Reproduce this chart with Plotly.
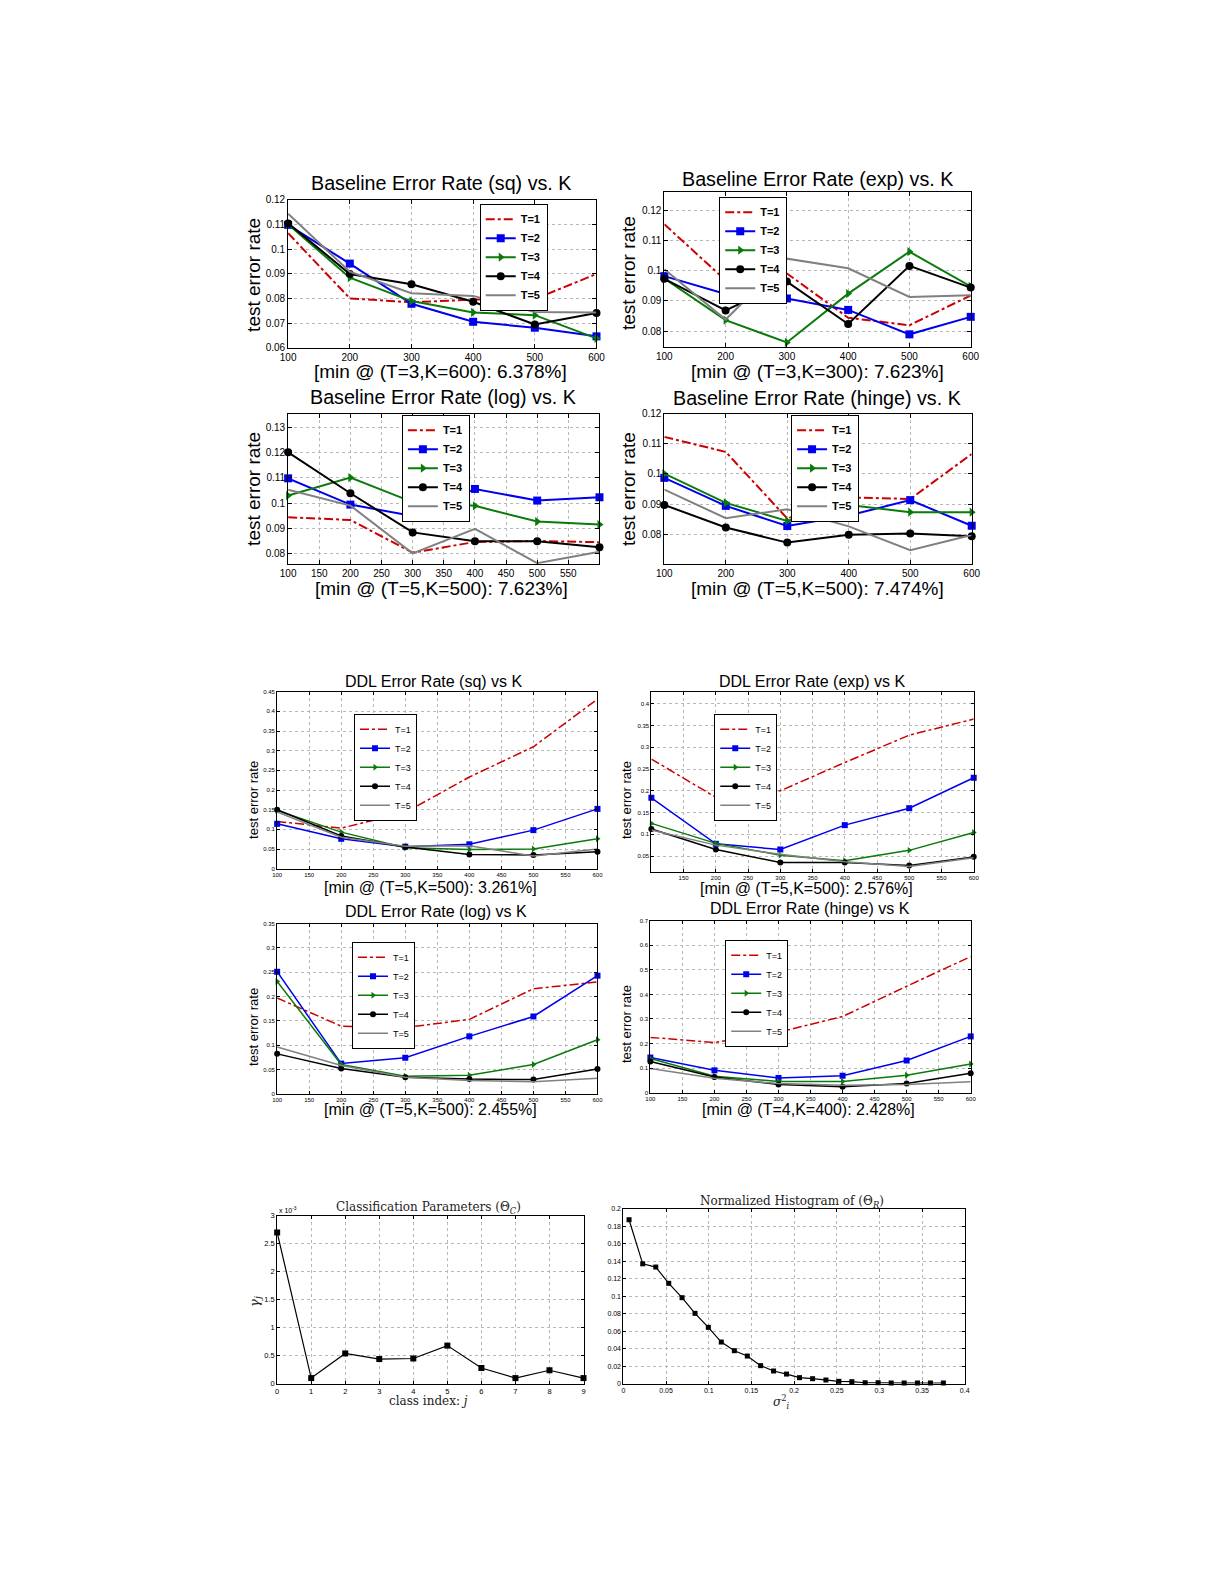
import plotly.graph_objects as go

W, H = 1225, 1585
OFF = 8
FW, FH = W - 2 * OFF, H - 2 * OFF
# measured placement of the rendered figure inside the photographed page
AX, SX = 14.3, 0.988
AY, SY = 12.3, 0.993

# ---------------- data ----------------
K = [100, 200, 300, 400, 500, 600]
T_NAMES = ["T=1", "T=2", "T=3", "T=4", "T=5"]

# Baseline (sq)
bsq_T1 = [0.1064, 0.0800, 0.0784, 0.0795, 0.0797, 0.0899]
bsq_T2 = [0.1098, 0.0941, 0.0778, 0.0705, 0.0681, 0.0646]
bsq_T3 = [0.1100, 0.0884, 0.0789, 0.0743, 0.0732, 0.0638]
bsq_T4 = [0.1104, 0.0899, 0.0857, 0.0786, 0.0694, 0.0741]
bsq_T5 = [0.1143, 0.0908, 0.0821, 0.0810, 0.0745, 0.0743]
# Baseline (exp)
bexp_T1 = [0.1154, 0.0968, 0.0991, 0.0844, 0.0819, 0.0918]
bexp_T2 = [0.0982, 0.0923, 0.0908, 0.0870, 0.0789, 0.0847]
bexp_T3 = [0.0974, 0.0836, 0.0762, 0.0924, 0.1063, 0.0948]
bexp_T4 = [0.0973, 0.0868, 0.0964, 0.0823, 0.1016, 0.0944]
bexp_T5 = [0.1005, 0.0838, 0.1040, 0.1008, 0.0913, 0.0919]
# Baseline (log)
blog_T1 = [0.0944, 0.0933, 0.0804, 0.0846, 0.0850, 0.0845]
blog_T2 = [0.1098, 0.0994, 0.0949, 0.1056, 0.1010, 0.1023]
blog_T3 = [0.1030, 0.1101, 0.1004, 0.0989, 0.0927, 0.0915]
blog_T4 = [0.1201, 0.1039, 0.0884, 0.0849, 0.0849, 0.0825]
blog_T5 = [0.1053, 0.0990, 0.0801, 0.0898, 0.0762, 0.0807]
# Baseline (hinge)
bhin_T1 = [0.1123, 0.1073, 0.0852, 0.0922, 0.0917, 0.1066]
bhin_T2 = [0.0987, 0.0894, 0.0827, 0.0862, 0.0913, 0.0828]
bhin_T3 = [0.1001, 0.0904, 0.0844, 0.0897, 0.0873, 0.0873]
bhin_T4 = [0.0897, 0.0822, 0.0772, 0.0798, 0.0802, 0.0793]
bhin_T5 = [0.0948, 0.0853, 0.0883, 0.0826, 0.0747, 0.0797]
# DDL (sq)
dsq_T1 = [0.120, 0.103, 0.143, 0.233, 0.310, 0.431]
dsq_T2 = [0.114, 0.076, 0.056, 0.062, 0.098, 0.152]
dsq_T3 = [0.148, 0.093, 0.053, 0.049, 0.050, 0.076]
dsq_T4 = [0.150, 0.083, 0.055, 0.036, 0.035, 0.043]
dsq_T5 = [0.144, 0.080, 0.057, 0.058, 0.0326, 0.050]
# DDL (exp)
dexp_T1 = [0.273, 0.185, 0.200, 0.265, 0.328, 0.365]
dexp_T2 = [0.184, 0.078, 0.065, 0.121, 0.160, 0.230]
dexp_T3 = [0.125, 0.079, 0.052, 0.039, 0.063, 0.104]
dexp_T4 = [0.112, 0.065, 0.035, 0.035, 0.028, 0.048]
dexp_T5 = [0.110, 0.075, 0.054, 0.037, 0.0258, 0.046]
# DDL (log)
dlog_T1 = [0.197, 0.139, 0.136, 0.153, 0.216, 0.230]
dlog_T2 = [0.251, 0.062, 0.074, 0.118, 0.159, 0.243]
dlog_T3 = [0.231, 0.060, 0.036, 0.038, 0.060, 0.111]
dlog_T4 = [0.082, 0.052, 0.034, 0.030, 0.029, 0.051]
dlog_T5 = [0.096, 0.058, 0.034, 0.027, 0.0246, 0.032]
# DDL (hinge)
dhin_T1 = [0.225, 0.204, 0.246, 0.310, 0.433, 0.554]
dhin_T2 = [0.143, 0.091, 0.060, 0.069, 0.131, 0.229]
dhin_T3 = [0.139, 0.067, 0.046, 0.046, 0.071, 0.117]
dhin_T4 = [0.127, 0.064, 0.033, 0.0243, 0.037, 0.079]
dhin_T5 = [0.098, 0.059, 0.037, 0.030, 0.033, 0.045]

# Classification parameters
class_idx = [0, 1, 2, 3, 4, 5, 6, 7, 8, 9]
gamma_j = [0.00270, 0.00010, 0.00054, 0.00044, 0.00045, 0.00068, 0.00028, 0.00010, 0.00024, 0.00010]

# Normalized histogram
sigma2 = [0.0066, 0.0226, 0.0379, 0.0531, 0.0687, 0.0839, 0.0995, 0.1147, 0.1300, 0.1452,
          0.1608, 0.1760, 0.1912, 0.2064, 0.2217, 0.2373, 0.2525, 0.2677, 0.2833, 0.2985,
          0.3138, 0.3290, 0.3446, 0.3598, 0.3750]
hist_vals = [0.1874, 0.1370, 0.1333, 0.1147, 0.0983, 0.0804, 0.0644, 0.0476, 0.0377, 0.0316,
             0.0206, 0.0145, 0.0110, 0.0069, 0.0057, 0.0042, 0.0027, 0.0023, 0.0011, 0.0011,
             0.0008, 0.0008, 0.0008, 0.0008, 0.0008]

# tick labels
k_ticks_100 = [100, 200, 300, 400, 500, 600]
k_ticks_50 = [100, 150, 200, 250, 300, 350, 400, 450, 500, 550, 600]
k_ticks_log = [100, 150, 200, 250, 300, 350, 400, 450, 500, 550]
k_ticks_exp = [150, 200, 250, 300, 350, 400, 450, 500, 550, 600]
y_bsq = [0.06, 0.07, 0.08, 0.09, 0.10, 0.11, 0.12]
y_bsq_lbl = ["0.06", "0.07", "0.08", "0.09", "0.1", "0.11", "0.12"]
y_bexp = [0.08, 0.09, 0.10, 0.11, 0.12]
y_bexp_lbl = ["0.08", "0.09", "0.1", "0.11", "0.12"]
y_blog = [0.08, 0.09, 0.10, 0.11, 0.12, 0.13]
y_blog_lbl = ["0.08", "0.09", "0.1", "0.11", "0.12", "0.13"]
y_bhin = [0.08, 0.09, 0.10, 0.11, 0.12]
y_bhin_lbl = ["0.08", "0.09", "0.1", "0.11", "0.12"]
y_dsq = [0, 0.05, 0.1, 0.15, 0.2, 0.25, 0.3, 0.35, 0.4, 0.45]
y_dsq_lbl = ["0", "0.05", "0.1", "0.15", "0.2", "0.25", "0.3", "0.35", "0.4", "0.45"]
y_dexp = [0.05, 0.1, 0.15, 0.2, 0.25, 0.3, 0.35, 0.4]
y_dexp_lbl = ["0.05", "0.1", "0.15", "0.2", "0.25", "0.3", "0.35", "0.4"]
y_dlog = [0, 0.05, 0.1, 0.15, 0.2, 0.25, 0.3, 0.35]
y_dlog_lbl = ["0", "0.05", "0.1", "0.15", "0.2", "0.25", "0.3", "0.35"]
y_dhin = [0, 0.1, 0.2, 0.3, 0.4, 0.5, 0.6, 0.7]
y_dhin_lbl = ["0", "0.1", "0.2", "0.3", "0.4", "0.5", "0.6", "0.7"]
x_cls = [0, 1, 2, 3, 4, 5, 6, 7, 8, 9]
y_cls = [0, 0.0005, 0.001, 0.0015, 0.002, 0.0025, 0.003]
y_cls_lbl = ["0", "0.5", "1", "1.5", "2", "2.5", "3"]
x_hist = [0, 0.05, 0.1, 0.15, 0.2, 0.25, 0.3, 0.35, 0.4]
x_hist_lbl = ["0", "0.05", "0.1", "0.15", "0.2", "0.25", "0.3", "0.35", "0.4"]
y_hist = [0, 0.02, 0.04, 0.06, 0.08, 0.1, 0.12, 0.14, 0.16, 0.18, 0.2]
y_hist_lbl = ["0", "0.02", "0.04", "0.06", "0.08", "0.1", "0.12", "0.14", "0.16", "0.18", "0.2"]

# ---------------- styling ----------------
SANS = "Liberation Sans, Arial, Helvetica, sans-serif"
SERIF = "DejaVu Serif, Liberation Serif, serif"
STYLES = [
    dict(color="#cc0000", dash="dashdot", symbol=None),
    dict(color="#0000ee", dash="solid", symbol="square"),
    dict(color="#0a7a0a", dash="solid", symbol="triangle-right"),
    dict(color="#000000", dash="solid", symbol="circle"),
    dict(color="#808080", dash="solid", symbol=None),
]


def fx(px):
    return ((px - AX) / SX) / FW


def fy(py):
    return 1 - ((py - AY) / SY) / FH


def ann(text, px, py, font, angle=0, xanchor="center"):
    return dict(text=text, x=fx(px), y=fy(py), xref="paper", yref="paper", showarrow=False,
                xanchor=xanchor, yanchor="middle", textangle=angle, font=font)


panels = [
    dict(kind="base", box=(287, 198, 596, 346), yr=[0.06, 0.12], yt=y_bsq, ytl=y_bsq_lbl, xt=k_ticks_100,
         data=[bsq_T1, bsq_T2, bsq_T3, bsq_T4, bsq_T5],
         title="Baseline Error Rate (sq) vs. K", tpos=(440, 181),
         sub="[min @ (T=3,K=600): 6.378%]", spos=(440, 370), ylpos=(252, 273), leg=(479, 202)),
    dict(kind="base", box=(664, 190, 971, 345), yr=[0.0748, 0.1262], yt=y_bexp, ytl=y_bexp_lbl, xt=k_ticks_100,
         data=[bexp_T1, bexp_T2, bexp_T3, bexp_T4, bexp_T5],
         title="Baseline Error Rate (exp) vs. K", tpos=(817, 177),
         sub="[min @ (T=3,K=300): 7.623%]", spos=(817, 370), ylpos=(628, 271), leg=(719, 195)),
    dict(kind="base", box=(287, 412, 599, 562), yr=[0.076, 0.1354], yt=y_blog, ytl=y_blog_lbl, xt=k_ticks_log,
         data=[blog_T1, blog_T2, blog_T3, blog_T4, blog_T5],
         title="Baseline Error Rate (log) vs. K", tpos=(442, 395),
         sub="[min @ (T=5,K=500): 7.623%]", spos=(441, 587), ylpos=(252, 487), leg=(401, 413)),
    dict(kind="base", box=(664, 412, 972, 562), yr=[0.0702, 0.12], yt=y_bhin, ytl=y_bhin_lbl, xt=k_ticks_100,
         data=[bhin_T1, bhin_T2, bhin_T3, bhin_T4, bhin_T5],
         title="Baseline Error Rate (hinge) vs. K", tpos=(817, 396),
         sub="[min @ (T=5,K=500): 7.474%]", spos=(817, 587), ylpos=(628, 487), leg=(791, 413)),
    dict(kind="ddl", box=(276, 690, 597, 867), yr=[0, 0.45], yt=y_dsq, ytl=y_dsq_lbl, xt=k_ticks_50,
         data=[dsq_T1, dsq_T2, dsq_T3, dsq_T4, dsq_T5],
         title="DDL Error Rate (sq) vs K", tpos=(433, 680),
         sub="[min @ (T=5,K=500): 3.261%]", spos=(430, 886), ylpos=(252, 798), leg=(353, 712)),
    dict(kind="ddl", box=(651, 690, 974, 870), yr=[0.0139, 0.428], yt=y_dexp, ytl=y_dexp_lbl, xt=k_ticks_exp,
         data=[dexp_T1, dexp_T2, dexp_T3, dexp_T4, dexp_T5],
         title="DDL Error Rate (exp) vs K", tpos=(812, 680),
         sub="[min @ (T=5,K=500): 2.576%]", spos=(806, 887), ylpos=(626, 798), leg=(714, 712)),
    dict(kind="ddl", box=(276, 922, 597, 1092), yr=[0, 0.35], yt=y_dlog, ytl=y_dlog_lbl, xt=k_ticks_50,
         data=[dlog_T1, dlog_T2, dlog_T3, dlog_T4, dlog_T5],
         title="DDL Error Rate (log) vs K", tpos=(435, 910),
         sub="[min @ (T=5,K=500): 2.455%]", spos=(430, 1108), ylpos=(252, 1025), leg=(351, 940)),
    dict(kind="ddl", box=(650, 919, 971, 1091), yr=[0, 0.7], yt=y_dhin, ytl=y_dhin_lbl, xt=k_ticks_50,
         data=[dhin_T1, dhin_T2, dhin_T3, dhin_T4, dhin_T5],
         title="DDL Error Rate (hinge) vs K", tpos=(810, 907),
         sub="[min @ (T=4,K=400): 2.428%]", spos=(808, 1108), ylpos=(626, 1022), leg=(725, 938)),
]

fig = go.Figure()
layout = dict(width=FW, height=FH, margin=dict(l=0, r=0, t=0, b=0), autosize=False,
              paper_bgcolor="white", plot_bgcolor="white", showlegend=True)
annotations = []


def axis_common(tickfont, ticklen=4):
    return dict(showline=True, linecolor="black", linewidth=1, mirror="ticks", ticks="inside",
                ticklen=ticklen, tickcolor="black", showgrid=True, gridcolor="#b8b8b8", griddash="dot",
                gridwidth=1, zeroline=False, tickfont=tickfont)


for i, p in enumerate(panels):
    n = i + 1
    sfx = "" if n == 1 else str(n)
    x0, y0, x1, y1 = p["box"]
    base = p["kind"] == "base"
    tickfont = dict(family=SANS, size=10 if base else 6, color="black")
    xa = axis_common(tickfont, 4 if base else 3)
    xa.update(domain=[fx(x0), fx(x1)], range=[100, 600], tickvals=p["xt"],
              ticktext=[str(v) for v in p["xt"]], anchor="y" + sfx)
    ya = axis_common(tickfont, 4 if base else 3)
    ya.update(domain=[fy(y1), fy(y0)], range=p["yr"], tickvals=p["yt"], ticktext=p["ytl"],
              anchor="x" + sfx)
    layout["xaxis" + sfx] = xa
    layout["yaxis" + sfx] = ya
    legname = "legend" + sfx
    layout[legname] = dict(x=fx(p["leg"][0]), y=fy(p["leg"][1]), xanchor="left", yanchor="top",
                           bgcolor="white", bordercolor="black", borderwidth=1,
                           font=dict(family=SANS, size=11 if base else 9, color="black",
                                     weight="bold" if base else "normal"),
                           itemwidth=30, tracegroupgap=0)
    lw = 2 if base else 1.5
    ms = 8 if base else 6
    for j, (vals, st) in enumerate(zip(p["data"], STYLES)):
        tr = dict(x=K, y=vals, name=T_NAMES[j], xaxis="x" + sfx, yaxis="y" + sfx, legend=legname,
                  line=dict(color=st["color"], width=lw, dash=st["dash"]), cliponaxis=False)
        if st["symbol"]:
            tr["mode"] = "lines+markers"
            tr["marker"] = dict(symbol=st["symbol"], size=ms, color=st["color"])
        else:
            tr["mode"] = "lines"
        fig.add_trace(go.Scatter(**tr))
    annotations.append(ann(p["title"], *p["tpos"],
                           font=dict(family=SANS, size=19.7 if base else 16, color="black")))
    annotations.append(ann(p["sub"], *p["spos"],
                           font=dict(family=SANS, size=19 if base else 16, color="black")))
    annotations.append(ann("test error rate", *p["ylpos"], angle=-90,
                           font=dict(family=SANS, size=19 if base else 13, color="black")))

# ---- Classification parameters panel (9) ----
tf_small = dict(family=SANS, size=7.5, color="black")
xa = axis_common(tf_small, 3)
xa.update(domain=[fx(276), fx(583)], range=[0, 9], tickvals=x_cls, ticktext=[str(v) for v in x_cls],
          anchor="y9")
ya = axis_common(tf_small, 3)
ya.update(domain=[fy(1382), fy(1214)], range=[0, 0.003], tickvals=y_cls, ticktext=y_cls_lbl, anchor="x9")
layout["xaxis9"] = xa
layout["yaxis9"] = ya
fig.add_trace(go.Scatter(x=class_idx, y=gamma_j, xaxis="x9", yaxis="y9", mode="lines+markers",
                         line=dict(color="black", width=1.2),
                         marker=dict(symbol="square", size=6, color="black"),
                         showlegend=False, cliponaxis=False))

# ---- Histogram panel (10) ----
tf_small2 = dict(family=SANS, size=7, color="black")
xa = axis_common(tf_small2, 3)
xa.update(domain=[fx(623), fx(965)], range=[0, 0.4], tickvals=x_hist, ticktext=x_hist_lbl, anchor="y10")
ya = axis_common(tf_small2, 3)
ya.update(domain=[fy(1382), fy(1207)], range=[0, 0.2], tickvals=y_hist, ticktext=y_hist_lbl, anchor="x10")
layout["xaxis10"] = xa
layout["yaxis10"] = ya
fig.add_trace(go.Scatter(x=sigma2, y=hist_vals, xaxis="x10", yaxis="y10", mode="lines+markers",
                         line=dict(color="black", width=1.2),
                         marker=dict(symbol="square", size=5, color="black"),
                         showlegend=False, cliponaxis=False))

serif = dict(family=SERIF, size=12, color="#222222")
annotations += [
    ann("Classification Parameters (Θ<sub><i>C</i></sub>)", 428, 1206, serif),
    ann("class index: <i>j</i>", 428, 1399, serif),
    ann("<i>γ</i><sub><i>j</i></sub>", 254, 1300, dict(family=SERIF, size=13, color="#222222"), angle=-90),
    ann("x 10<sup>-3</sup>", 276, 1208, dict(family=SANS, size=7, color="black"), xanchor="left"),
    ann("Normalized Histogram of (Θ<sub><i>R</i></sub>)", 792, 1200, serif),
    ann("<i>σ</i><sup>2</sup><sub><i>i</i></sub>", 781, 1400, serif),
]

layout["annotations"] = annotations
fig.update_layout(**layout)
fig.write_html("out.html")
